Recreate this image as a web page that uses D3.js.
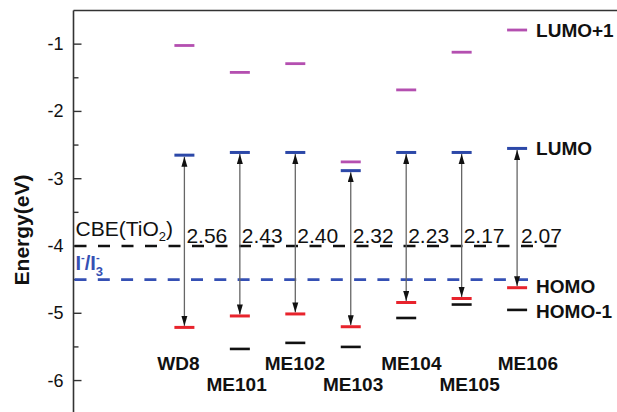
<!DOCTYPE html>
<html><head><meta charset="utf-8">
<script src="https://cdn.jsdelivr.net/npm/d3@7"></script>
<style>html,body{margin:0;padding:0;background:#fff}svg{display:block}</style>
</head><body><svg id="c" width="617" height="412"></svg>
<script>
const molecules = ["WD8","ME101","ME102","ME103","ME104","ME105","ME106"];
const lumo1 = [-1.02,-1.42,-1.29,-2.75,-1.68,-1.12,-0.79];
const lumo  = [-2.65,-2.61,-2.61,-2.88,-2.61,-2.61,-2.55];
const homo  = [-5.21,-5.04,-5.01,-5.20,-4.84,-4.78,-4.62];
const homo1 = [null,-5.53,-5.44,-5.50,-5.07,-4.87,-4.95];
const gaps  = ["2.56","2.43","2.40","2.32","2.23","2.17","2.07"];
const cbeLevel = -4.0, redoxLevel = -4.5;
const yTicks = [-1,-2,-3,-4,-5,-6];
const legendLabels = ["LUMO+1","LUMO","HOMO","HOMO-1"];

const C = {mag:"#b44fb0", blue:"#2c48a8", red:"#e8232c", black:"#111", dash:"#3550b4"};
const svg = d3.select("#c");
const x = d3.scaleLinear().domain([-2, 8]).range([73.5, 73.5 + 10*55.45]);
const y = d3.scaleLinear().domain([-6.5, -0.5]).range([414.2, 10.5]);
const F = "Arial, 'Liberation Sans', Helvetica, sans-serif";

// frame
svg.append("line").attr("x1",x(-2)).attr("x2",617).attr("y1",y(-0.5)).attr("y2",y(-0.5))
  .attr("stroke","#333").attr("stroke-width",1.6);
svg.append("line").attr("x1",x(-2)).attr("x2",x(-2)).attr("y1",y(-0.5)).attr("y2",412)
  .attr("stroke","#333").attr("stroke-width",1.6);
// ticks inward
const minor = d3.range(-6.5,-0.5,0.5).filter(v=>!yTicks.includes(v) && v> -6.6);
svg.selectAll(".mt").data(minor).join("line").attr("x1",x(-2)).attr("x2",x(-2)+5)
  .attr("y1",d=>y(d)).attr("y2",d=>y(d)).attr("stroke","#333").attr("stroke-width",1.4);
svg.selectAll(".Mt").data(yTicks).join("line").attr("x1",x(-2)).attr("x2",x(-2)+8)
  .attr("y1",d=>y(d)).attr("y2",d=>y(d)).attr("stroke","#333").attr("stroke-width",1.4);
svg.selectAll(".tl").data(yTicks).join("text").attr("x",x(-2)-10).attr("y",d=>y(d)+6)
  .attr("text-anchor","end").attr("font-family",F).attr("font-size",18).attr("fill","#111").text(d=>d);
svg.append("text").attr("transform",`translate(29,230) rotate(-90)`).attr("text-anchor","middle")
  .attr("font-family",F).attr("font-size",21).attr("font-weight","bold").attr("fill","#111").text("Energy(eV)");

// reference dashed lines
svg.append("line").attr("x1",x(-2)+1).attr("x2",560).attr("y1",y(cbeLevel)).attr("y2",y(cbeLevel))
  .attr("stroke","#111").attr("stroke-width",2.6).attr("stroke-dasharray","12,11.5");
svg.append("line").attr("x1",x(-2)+1).attr("x2",528).attr("y1",y(redoxLevel)).attr("y2",y(redoxLevel))
  .attr("stroke",C.dash).attr("stroke-width",2.6).attr("stroke-dasharray","12,11.3");

// labels for reference lines
const cbe = svg.append("text").attr("x",x(-2)+2).attr("y",y(cbeLevel)-10).attr("font-family",F)
  .attr("font-size",21).attr("fill","#111");
cbe.append("tspan").text("CBE(TiO");
cbe.append("tspan").attr("font-size",13).attr("dy",5).text("2");
cbe.append("tspan").attr("dy",-5).text(")");
const rd = svg.append("text").attr("x",x(-2)+2).attr("y",y(redoxLevel)-10).attr("font-family",F)
  .attr("font-size",20).attr("font-weight","bold").attr("fill",C.dash);
rd.append("tspan").text("I");
rd.append("tspan").attr("font-size",11).attr("dy",-9).text("-");
rd.append("tspan").attr("dy",9).text("/I");
rd.append("tspan").attr("font-size",13).attr("dy",6).text("3");
rd.append("tspan").attr("font-size",11).attr("dx",-7).attr("dy",-15).text("-");

const idx = d3.range(molecules.length);
// arrows
const defs = svg.append("defs");
defs.append("marker").attr("id","ah").attr("viewBox","0 0 10 6").attr("refX",10).attr("refY",3)
  .attr("markerUnits","userSpaceOnUse").attr("markerWidth",10).attr("markerHeight",6.5).attr("orient","auto-start-reverse")
  .append("path").attr("d","M0,0 L10,3 L0,6 Z").attr("fill","#111");
svg.selectAll(".arr").data(idx).join("line")
  .attr("x1",i=>x(i)).attr("x2",i=>x(i)).attr("y1",i=>y(lumo[i])+1.5).attr("y2",i=>y(homo[i])-1.5)
  .attr("stroke","#666").attr("stroke-width",1.3)
  .attr("marker-start","url(#ah)").attr("marker-end","url(#ah)");

// levels
function levels(vals, color, w){
  svg.append("g").selectAll("line").data(idx.filter(i=>vals[i]!=null)).join("line")
    .attr("x1",i=>x(i)-10).attr("x2",i=>x(i)+10).attr("y1",i=>y(vals[i])).attr("y2",i=>y(vals[i]))
    .attr("stroke",color).attr("stroke-width",w);
}
levels(lumo1, C.mag, 2.8);
levels(lumo, C.blue, 3);
levels(homo1, C.black, 2.6);
levels(homo, C.red, 3);

// gap labels
svg.selectAll(".gap").data(idx).join("text").attr("x",i=>x(i)+2+ (i==6?2:0)).attr("y",y(cbeLevel)-3)
  .attr("font-family",F).attr("font-size",21).attr("fill","#111").text(i=>gaps[i]);

// molecule labels
svg.selectAll(".mol").data(idx).join("text").attr("x",i=>x(i)-6+2.8*i)
  .attr("y",i=>i%2===0?370:391).attr("text-anchor","middle")
  .attr("font-family",F).attr("font-size",19).attr("font-weight","bold").attr("fill","#111").text(i=>molecules[i]);

// legend labels attached to last column
const last = molecules.length-1;
const legVals = [lumo1[last], lumo[last], homo[last], homo1[last]];
svg.selectAll(".leg").data(legendLabels).join("text").attr("x",x(last)+19)
  .attr("y",(d,k)=>y(legVals[k])+7 + (k==2?-2:0) + (k==3?1:0))
  .attr("font-family",F).attr("font-size",19).attr("font-weight","bold").attr("fill","#111").text(d=>d);
</script></body></html>
